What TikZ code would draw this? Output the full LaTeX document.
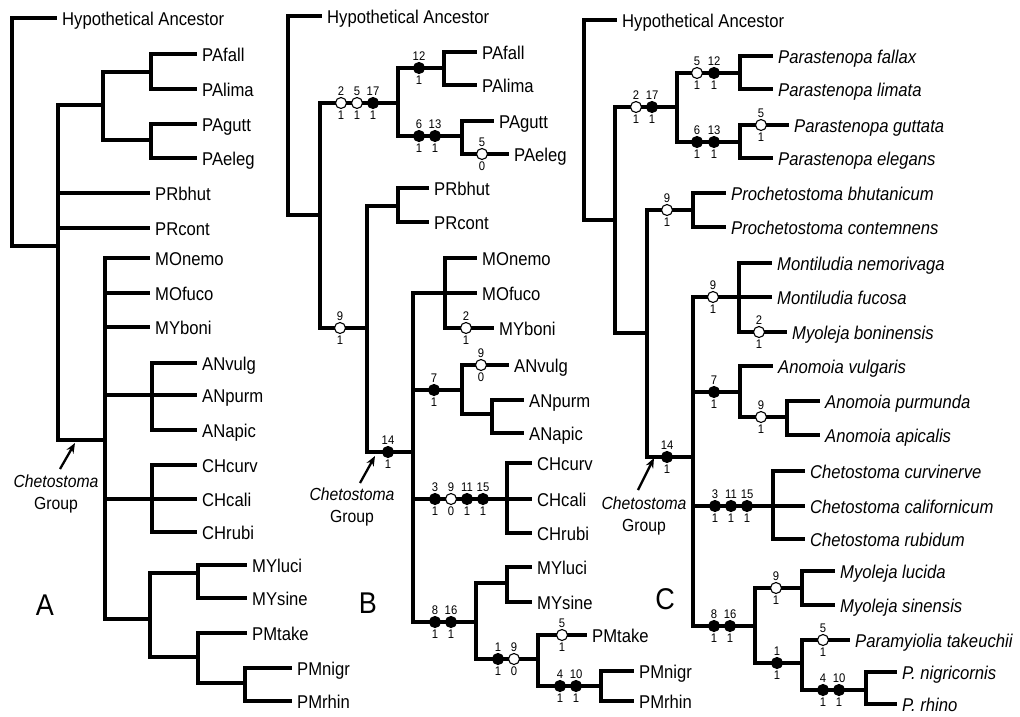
\documentclass[tikz,border=0pt]{standalone}
\usepackage{fontspec}
\setmainfont{Liberation Sans}[FakeStretch=0.9]
\usetikzlibrary{arrows.meta}
\newcommand\mkO[4]{\node[opn,label={[num]above:#3},label={[num]below:#4}] (#1) at (#2) {};}
\newcommand\mkF[4]{\node[fil,label={[num]above:#3},label={[num]below:#4}] (#1) at (#2) {};}
\tikzset{
 br/.style={line width=3.1pt, line cap=rect, line join=miter},
 tip/.style={anchor=west, inner xsep=7pt, inner ysep=0pt, text height=15pt, text depth=0pt, font=\fontsize{18.5}{20}\selectfont},
 itip/.style={tip, font=\fontsize{18.5}{20}\selectfont\itshape},
 num/.style={font=\fontsize{12.5}{13}\selectfont, inner sep=1.2pt},
 mk/.style={circle, draw=black, line width=1.1pt, minimum size=11pt, inner sep=0pt},
 opn/.style={mk, fill=white},
 fil/.style={mk, fill=black},
 grp/.style={align=center, font=\fontsize{17.5}{22}\selectfont},
 big/.style={font=\fontsize{30}{31}\selectfont},
 arr/.style={line width=2.3pt, -{Stealth[length=10pt,width=8pt]}},
}
\begin{document}
\begin{tikzpicture}[x=1pt,y=-1pt]
\fill[white] (0,0) rectangle (1020,716);
\useasboundingbox (0,0) rectangle (1020,716);
% ================= Panel A =================
\coordinate (aR) at (12,246);
\coordinate (aC1) at (58,246);
\coordinate (aPA) at (103,105);
\coordinate (aPA1) at (151,72);
\coordinate (aPA2) at (151,140);
\coordinate (aCh) at (105,440);
\coordinate (aAN) at (152,395);
\coordinate (aCH) at (152,499);
\coordinate (aMP) at (150,619);
\coordinate (aMY) at (198,573);
\coordinate (aPM) at (198,657);
\coordinate (aPN) at (245,683);
\node[tip] (aHA) at (55,18) {Hypothetical Ancestor};
\node[tip] (aPAfall) at (195,54) {PAfall};
\node[tip] (aPAlima) at (195,89) {PAlima};
\node[tip] (aPAgutt) at (195,124) {PAgutt};
\node[tip] (aPAeleg) at (195,158) {PAeleg};
\node[tip] (aPRbhut) at (148,193) {PRbhut};
\node[tip] (aPRcont) at (148,228) {PRcont};
\node[tip] (aMOnemo) at (148,258) {MOnemo};
\node[tip] (aMOfuco) at (148,293) {MOfuco};
\node[tip] (aMYboni) at (148,327) {MYboni};
\node[tip] (aANvulg) at (195,363) {ANvulg};
\node[tip] (aANpurm) at (195,395) {ANpurm};
\node[tip] (aANapic) at (195,430) {ANapic};
\node[tip] (aCHcurv) at (195,465) {CHcurv};
\node[tip] (aCHcali) at (195,499) {CHcali};
\node[tip] (aCHrubi) at (195,532) {CHrubi};
\node[tip] (aMYluci) at (245,565) {MYluci};
\node[tip] (aMYsine) at (245,598) {MYsine};
\node[tip] (aPMtake) at (245,633) {PMtake};
\node[tip] (aPMnigr) at (290,668) {PMnigr};
\node[tip] (aPMrhin) at (290,701) {PMrhin};
\draw[br] (aR) |- (aHA);
\draw[br] (aR) -- (aC1);
\draw[br] (aC1) |- (aPA);
\draw[br] (aC1) |- (aPRbhut);
\draw[br] (aC1) |- (aPRcont);
\draw[br] (aC1) |- (aCh);
\draw[br] (aPA) |- (aPA1);
\draw[br] (aPA) |- (aPA2);
\draw[br] (aPA1) |- (aPAfall);
\draw[br] (aPA1) |- (aPAlima);
\draw[br] (aPA2) |- (aPAgutt);
\draw[br] (aPA2) |- (aPAeleg);
\draw[br] (aCh) |- (aMOnemo);
\draw[br] (aCh) |- (aMOfuco);
\draw[br] (aCh) |- (aMYboni);
\draw[br] (aCh) |- (aAN);
\draw[br] (aCh) |- (aCH);
\draw[br] (aCh) |- (aMP);
\draw[br] (aAN) |- (aANvulg);
\draw[br] (aAN) |- (aANpurm);
\draw[br] (aAN) |- (aANapic);
\draw[br] (aCH) |- (aCHcurv);
\draw[br] (aCH) |- (aCHcali);
\draw[br] (aCH) |- (aCHrubi);
\draw[br] (aMP) |- (aMY);
\draw[br] (aMP) |- (aPM);
\draw[br] (aMY) |- (aMYluci);
\draw[br] (aMY) |- (aMYsine);
\draw[br] (aPM) |- (aPMtake);
\draw[br] (aPM) |- (aPN);
\draw[br] (aPN) |- (aPMnigr);
\draw[br] (aPN) |- (aPMrhin);
\node[big] (lA) at (45,605) {A};
\node[grp] (aCG) at (56,494) {\textit{Chetostoma}\\Group};
\coordinate (aAt) at (60,469);
\coordinate (aAh) at (75,443);
\draw[arr] (aAt) -- (aAh);
% ================= Panel B =================
\coordinate (bR) at (288,215);
\coordinate (bC1) at (320,215);
\coordinate (bPA) at (398,103);
\coordinate (bPA1) at (444,68);
\coordinate (bPA2) at (462,136);
\coordinate (bC2) at (367,328);
\coordinate (bPR) at (398,206);
\coordinate (bCh) at (413,452);
\coordinate (bMO) at (445,293);
\coordinate (bAN) at (462,390);
\coordinate (bAN2) at (492,414);
\coordinate (bCH) at (507,499);
\coordinate (bMP) at (476,622);
\coordinate (bMY) at (507,583);
\coordinate (bPM) at (538,659);
\coordinate (bPN) at (601,686);
\node[tip] (bHA) at (320,16) {Hypothetical Ancestor};
\node[tip] (bPAfall) at (475,52) {PAfall};
\node[tip] (bPAlima) at (475,85) {PAlima};
\node[tip] (bPAgutt) at (492,121) {PAgutt};
\node[tip] (bPAeleg) at (507,154) {PAeleg};
\node[tip] (bPRbhut) at (427,188) {PRbhut};
\node[tip] (bPRcont) at (427,222) {PRcont};
\node[tip] (bMOnemo) at (475,258) {MOnemo};
\node[tip] (bMOfuco) at (475,293) {MOfuco};
\node[tip] (bMYboni) at (492,328) {MYboni};
\node[tip] (bANvulg) at (507,365) {ANvulg};
\node[tip] (bANpurm) at (522,400) {ANpurm};
\node[tip] (bANapic) at (522,433) {ANapic};
\node[tip] (bCHcurv) at (530,463) {CHcurv};
\node[tip] (bCHcali) at (530,499) {CHcali};
\node[tip] (bCHrubi) at (530,533) {CHrubi};
\node[tip] (bMYluci) at (530,567) {MYluci};
\node[tip] (bMYsine) at (530,602) {MYsine};
\node[tip] (bPMtake) at (585,635) {PMtake};
\node[tip] (bPMnigr) at (632,671) {PMnigr};
\node[tip] (bPMrhin) at (632,701) {PMrhin};
\draw[br] (bR) |- (bHA);
\draw[br] (bR) -- (bC1);
\draw[br] (bC1) |- (bPA);
\draw[br] (bC1) |- (bC2);
\draw[br] (bC2) |- (bPR);
\draw[br] (bC2) |- (bCh);
\draw[br] (bPA) |- (bPA1);
\draw[br] (bPA) |- (bPA2);
\draw[br] (bPA1) |- (bPAfall);
\draw[br] (bPA1) |- (bPAlima);
\draw[br] (bPA2) |- (bPAgutt);
\draw[br] (bPA2) |- (bPAeleg);
\draw[br] (bPR) |- (bPRbhut);
\draw[br] (bPR) |- (bPRcont);
\draw[br] (bCh) |- (bMO);
\draw[br] (bCh) |- (bAN);
\draw[br] (bCh) |- (bCH);
\draw[br] (bCh) |- (bMP);
\draw[br] (bMO) |- (bMOnemo);
\draw[br] (bMO) |- (bMOfuco);
\draw[br] (bMO) |- (bMYboni);
\draw[br] (bAN) |- (bANvulg);
\draw[br] (bAN) |- (bAN2);
\draw[br] (bAN2) |- (bANpurm);
\draw[br] (bAN2) |- (bANapic);
\draw[br] (bCH) |- (bCHcurv);
\draw[br] (bCH) |- (bCHcali);
\draw[br] (bCH) |- (bCHrubi);
\draw[br] (bMP) |- (bMY);
\draw[br] (bMP) |- (bPM);
\draw[br] (bMY) |- (bMYluci);
\draw[br] (bMY) |- (bMYsine);
\draw[br] (bPM) |- (bPMtake);
\draw[br] (bPM) |- (bPN);
\draw[br] (bPN) |- (bPMnigr);
\draw[br] (bPN) |- (bPMrhin);
\mkO{b2}{341,103}{2}{1}
\mkO{b5}{357,103}{5}{1}
\mkF{b17}{373,103}{17}{1}
\mkF{b12}{419,68}{12}{1}
\mkF{b6}{419,136}{6}{1}
\mkF{b13}{435,136}{13}{1}
\mkO{b5e}{482,154}{5}{0}
\mkO{b9a}{340,328}{9}{1}
\mkF{b14}{388,452}{14}{1}
\mkO{b2m}{466,328}{2}{1}
\mkF{b7}{434,390}{7}{1}
\mkO{b9v}{481,365}{9}{0}
\mkF{b3}{435,499}{3}{1}
\mkO{b9c}{451,499}{9}{0}
\mkF{b11}{467,499}{11}{1}
\mkF{b15}{483,499}{15}{1}
\mkF{b8}{435,622}{8}{1}
\mkF{b16}{451,622}{16}{1}
\mkF{b1}{498,659}{1}{1}
\mkO{b9p}{514,659}{9}{0}
\mkO{b5t}{562,635}{5}{1}
\mkF{b4}{560,686}{4}{1}
\mkF{b10}{576,686}{10}{1}
\node[big] (lB) at (368,603) {B};
\node[grp] (bCG) at (352,507) {\textit{Chetostoma}\\Group};
\coordinate (bAt) at (360,483);
\coordinate (bAh) at (375,456);
\draw[arr] (bAt) -- (bAh);
% ================= Panel C =================
\coordinate (cR) at (584,220);
\coordinate (cC1) at (615,220);
\coordinate (cPA) at (677,107);
\coordinate (cPA1) at (740,73);
\coordinate (cPA2) at (740,142);
\coordinate (cC2) at (647,333);
\coordinate (cPR) at (693,210);
\coordinate (cCh) at (693,457);
\coordinate (cMO) at (739,297);
\coordinate (cAN) at (740,392);
\coordinate (cAN2) at (787,417);
\coordinate (cCH) at (773,506);
\coordinate (cMP) at (755,626);
\coordinate (cMY) at (802,588);
\coordinate (cPM) at (802,663);
\coordinate (cPN) at (866,690);
\node[tip] (cHA) at (615,20) {Hypothetical Ancestor};
\node[itip] (cPfal) at (771,56) {Parastenopa fallax};
\node[itip] (cPlim) at (771,89) {Parastenopa limata};
\node[itip] (cPgut) at (787,125) {Parastenopa guttata};
\node[itip] (cPele) at (771,158) {Parastenopa elegans};
\node[itip] (cPbhu) at (724,193) {Prochetostoma bhutanicum};
\node[itip] (cPcon) at (724,227) {Prochetostoma contemnens};
\node[itip] (cMnem) at (770,263) {Montiludia nemorivaga};
\node[itip] (cMfuc) at (770,297) {Montiludia fucosa};
\node[itip] (cMbon) at (785,332) {Myoleja boninensis};
\node[itip] (cAvul) at (771,366) {Anomoia vulgaris};
\node[itip] (cApur) at (818,401) {Anomoia purmunda};
\node[itip] (cAapi) at (818,435) {Anomoia apicalis};
\node[itip] (cCcur) at (803,471) {Chetostoma curvinerve};
\node[itip] (cCcal) at (803,506) {Chetostoma californicum};
\node[itip] (cCrub) at (803,539) {Chetostoma rubidum};
\node[itip] (cMluc) at (833,571) {Myoleja lucida};
\node[itip] (cMsin) at (833,605) {Myoleja sinensis};
\node[itip] (cPtak) at (848,640) {Paramyiolia takeuchii};
\node[itip] (cPnig) at (895,672) {P.\ nigricornis};
\node[itip] (cPrhi) at (895,704) {P.\ rhino};
\draw[br] (cR) |- (cHA);
\draw[br] (cR) -- (cC1);
\draw[br] (cC1) |- (cPA);
\draw[br] (cC1) |- (cC2);
\draw[br] (cC2) |- (cPR);
\draw[br] (cC2) |- (cCh);
\draw[br] (cPA) |- (cPA1);
\draw[br] (cPA) |- (cPA2);
\draw[br] (cPA1) |- (cPfal);
\draw[br] (cPA1) |- (cPlim);
\draw[br] (cPA2) |- (cPgut);
\draw[br] (cPA2) |- (cPele);
\draw[br] (cPR) |- (cPbhu);
\draw[br] (cPR) |- (cPcon);
\draw[br] (cCh) |- (cMO);
\draw[br] (cCh) |- (cAN);
\draw[br] (cCh) |- (cCH);
\draw[br] (cCh) |- (cMP);
\draw[br] (cMO) |- (cMnem);
\draw[br] (cMO) |- (cMfuc);
\draw[br] (cMO) |- (cMbon);
\draw[br] (cAN) |- (cAvul);
\draw[br] (cAN) |- (cAN2);
\draw[br] (cAN2) |- (cApur);
\draw[br] (cAN2) |- (cAapi);
\draw[br] (cCH) |- (cCcur);
\draw[br] (cCH) |- (cCcal);
\draw[br] (cCH) |- (cCrub);
\draw[br] (cMP) |- (cMY);
\draw[br] (cMP) |- (cPM);
\draw[br] (cMY) |- (cMluc);
\draw[br] (cMY) |- (cMsin);
\draw[br] (cPM) |- (cPtak);
\draw[br] (cPM) |- (cPN);
\draw[br] (cPN) |- (cPnig);
\draw[br] (cPN) |- (cPrhi);
\mkO{c2}{636,107}{2}{1}
\mkF{c17}{652,107}{17}{1}
\mkO{c5}{697,73}{5}{1}
\mkF{c12}{714,73}{12}{1}
\mkF{c6}{697,142}{6}{1}
\mkF{c13}{714,142}{13}{1}
\mkO{c5g}{761,125}{5}{1}
\mkO{c9r}{667,210}{9}{1}
\mkF{c14}{667,457}{14}{1}
\mkO{c9m}{713,297}{9}{1}
\mkO{c2m}{759,332}{2}{1}
\mkF{c7}{714,392}{7}{1}
\mkO{c9a}{761,417}{9}{1}
\mkF{c3}{715,506}{3}{1}
\mkF{c11}{731,506}{11}{1}
\mkF{c15}{747,506}{15}{1}
\mkF{c8}{714,626}{8}{1}
\mkF{c16}{730,626}{16}{1}
\mkO{c9y}{776,588}{9}{1}
\mkF{c1}{777,663}{1}{1}
\mkO{c5t}{823,640}{5}{1}
\mkF{c4}{823,690}{4}{1}
\mkF{c10}{839,690}{10}{1}
\node[big] (lC) at (665,599) {C};
\node[grp] (cCG) at (644,516) {\textit{Chetostoma}\\Group};
\coordinate (cAt) at (638,490);
\coordinate (cAh) at (654,458);
\draw[arr] (cAt) -- (cAh);
\end{tikzpicture}
\end{document}
